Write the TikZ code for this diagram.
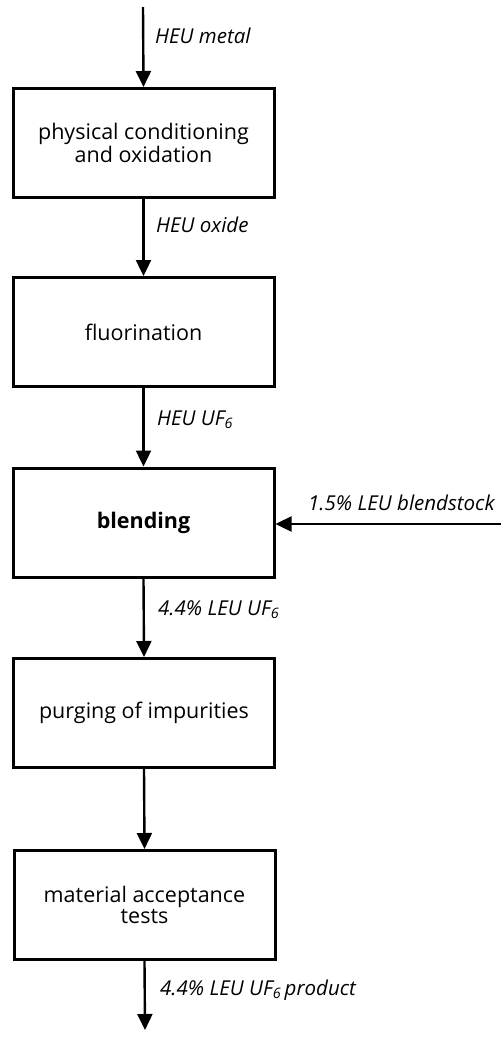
\documentclass[tikz,border=0pt]{standalone}
\usepackage{fontspec}
\setmainfont{Open Sans}
\usetikzlibrary{arrows.meta}
\begin{document}
\begin{tikzpicture}[x=1pt,y=-1pt,
  stepbox/.style={draw,line width=3pt,minimum width=261pt,minimum height=109pt,align=center,font=\fontsize{21.5}{21}\selectfont,inner sep=0pt},
  flow/.style={line width=2.4pt,-{Triangle[length=16pt,width=15pt]}},
  lbl/.style={anchor=base west,font=\fontsize{20.5}{22}\selectfont\itshape,inner sep=0pt}]
\useasboundingbox (0,0) rectangle (501,1037);
\node[stepbox] (b1) at (143.5,143) {physical conditioning\\and oxidation};
\node[stepbox] (b2) at (143.5,332) {fluorination};
\node[stepbox] (b3) at (143.5,522.5) {\bfseries blending};
\node[stepbox] (b4) at (144,713) {purging of impurities};
\node[stepbox] (b5) at (144.5,905) {material acceptance\\tests};
\coordinate (top) at (143,7);
\coordinate (bot) at (145,1030);
\coordinate (rt) at (501,524);
\draw[flow] (top) -- (b1.north);
\draw[flow] (b1.south) -- (b2.north);
\draw[flow] (b2.south) -- (b3.north);
\draw[flow] (b3.south) -- (b4.north);
\draw[flow] (b4.south) -- (b5.north);
\draw[flow] (b5.south) -- (bot);
\draw[flow] (rt) -- (b3.east |- rt);
\node[lbl] (l1) at (155,43) {HEU metal};
\node[lbl] (l2) at (156,232) {HEU oxide};
\node[lbl] (l3) at (157,425) {HEU UF\textsubscript{6}};
\node[lbl] (l4) at (158,615) {4.4\% LEU UF\textsubscript{6}};
\node[lbl] (l5) at (160,995) {4.4\% LEU UF\textsubscript{6}\,product};
\node[lbl] (l6) at (308,510) {1.5\% LEU blendstock};
\end{tikzpicture}
\end{document}
